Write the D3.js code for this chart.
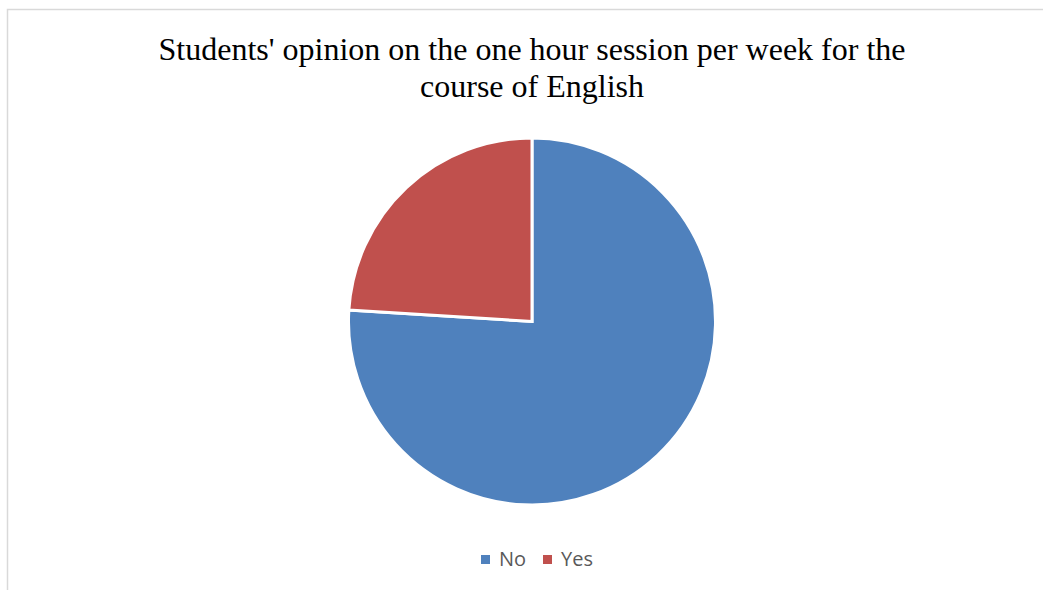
<!DOCTYPE html>
<html>
<head>
<meta charset="utf-8">
<script src="https://cdn.jsdelivr.net/npm/d3@7"></script>
<style>
  body { margin: 0; background: #fff; }
</style>
</head>
<body>
<div id="chart"></div>
<script>
// data
var categories = ["No", "Yes"];
var values = [76, 24];
var colors = ["#4f81bd", "#c0504d"];
var titleLines = ["Students' opinion on the one hour session per week for the", "course of English"];

var svgWidth = 1043;
var svgHeight = 590;

var svg = d3.select("#chart").append("svg")
  .attr("width", svgWidth)
  .attr("height", svgHeight);

// chart border (runs off right and bottom edges)
svg.append("rect")
  .attr("x", 7.5)
  .attr("y", 9.5)
  .attr("width", 1100)
  .attr("height", 700)
  .attr("fill", "none")
  .attr("stroke", "#d9d9d9")
  .attr("stroke-width", 1.5);

// title
svg.append("text")
  .attr("x", 532)
  .attr("y", 60)
  .attr("text-anchor", "middle")
  .style("font-family", "'Liberation Serif', 'Times New Roman', serif")
  .style("font-size", "32px")
  .attr("fill", "#000")
  .selectAll("tspan")
  .data(titleLines)
  .enter()
  .append("tspan")
  .attr("x", 532)
  .attr("dy", (d, i) => i === 0 ? 0 : 37)
  .text(d => d);

// pie
var cx = 532, cy = 321.5, radius = 183.5;

var pie = d3.pie().sort(null).value(d => d);
var arc = d3.arc().innerRadius(0).outerRadius(radius);

var pieGroup = svg.append("g")
  .attr("transform", `translate(${cx}, ${cy})`);

pieGroup.selectAll("path")
  .data(pie(values))
  .enter()
  .append("path")
  .attr("d", arc)
  .attr("fill", (d, i) => colors[i])
  .attr("stroke", "#fff")
  .attr("stroke-width", 3)
  .attr("stroke-linejoin", "miter");

// legend
var legendX = [481, 543];
var legend = svg.append("g");

legend.selectAll("rect")
  .data(categories)
  .enter()
  .append("rect")
  .attr("x", (d, i) => legendX[i])
  .attr("y", 555)
  .attr("width", 9)
  .attr("height", 9)
  .attr("fill", (d, i) => colors[i]);

legend.selectAll("text")
  .data(categories)
  .enter()
  .append("text")
  .attr("x", (d, i) => legendX[i] + 18)
  .attr("y", 566)
  .style("font-family", "'Open Sans', 'Liberation Sans', sans-serif")
  .style("font-size", "20px")
  .attr("fill", "#595959")
  .text(d => d);
</script>
</body>
</html>
